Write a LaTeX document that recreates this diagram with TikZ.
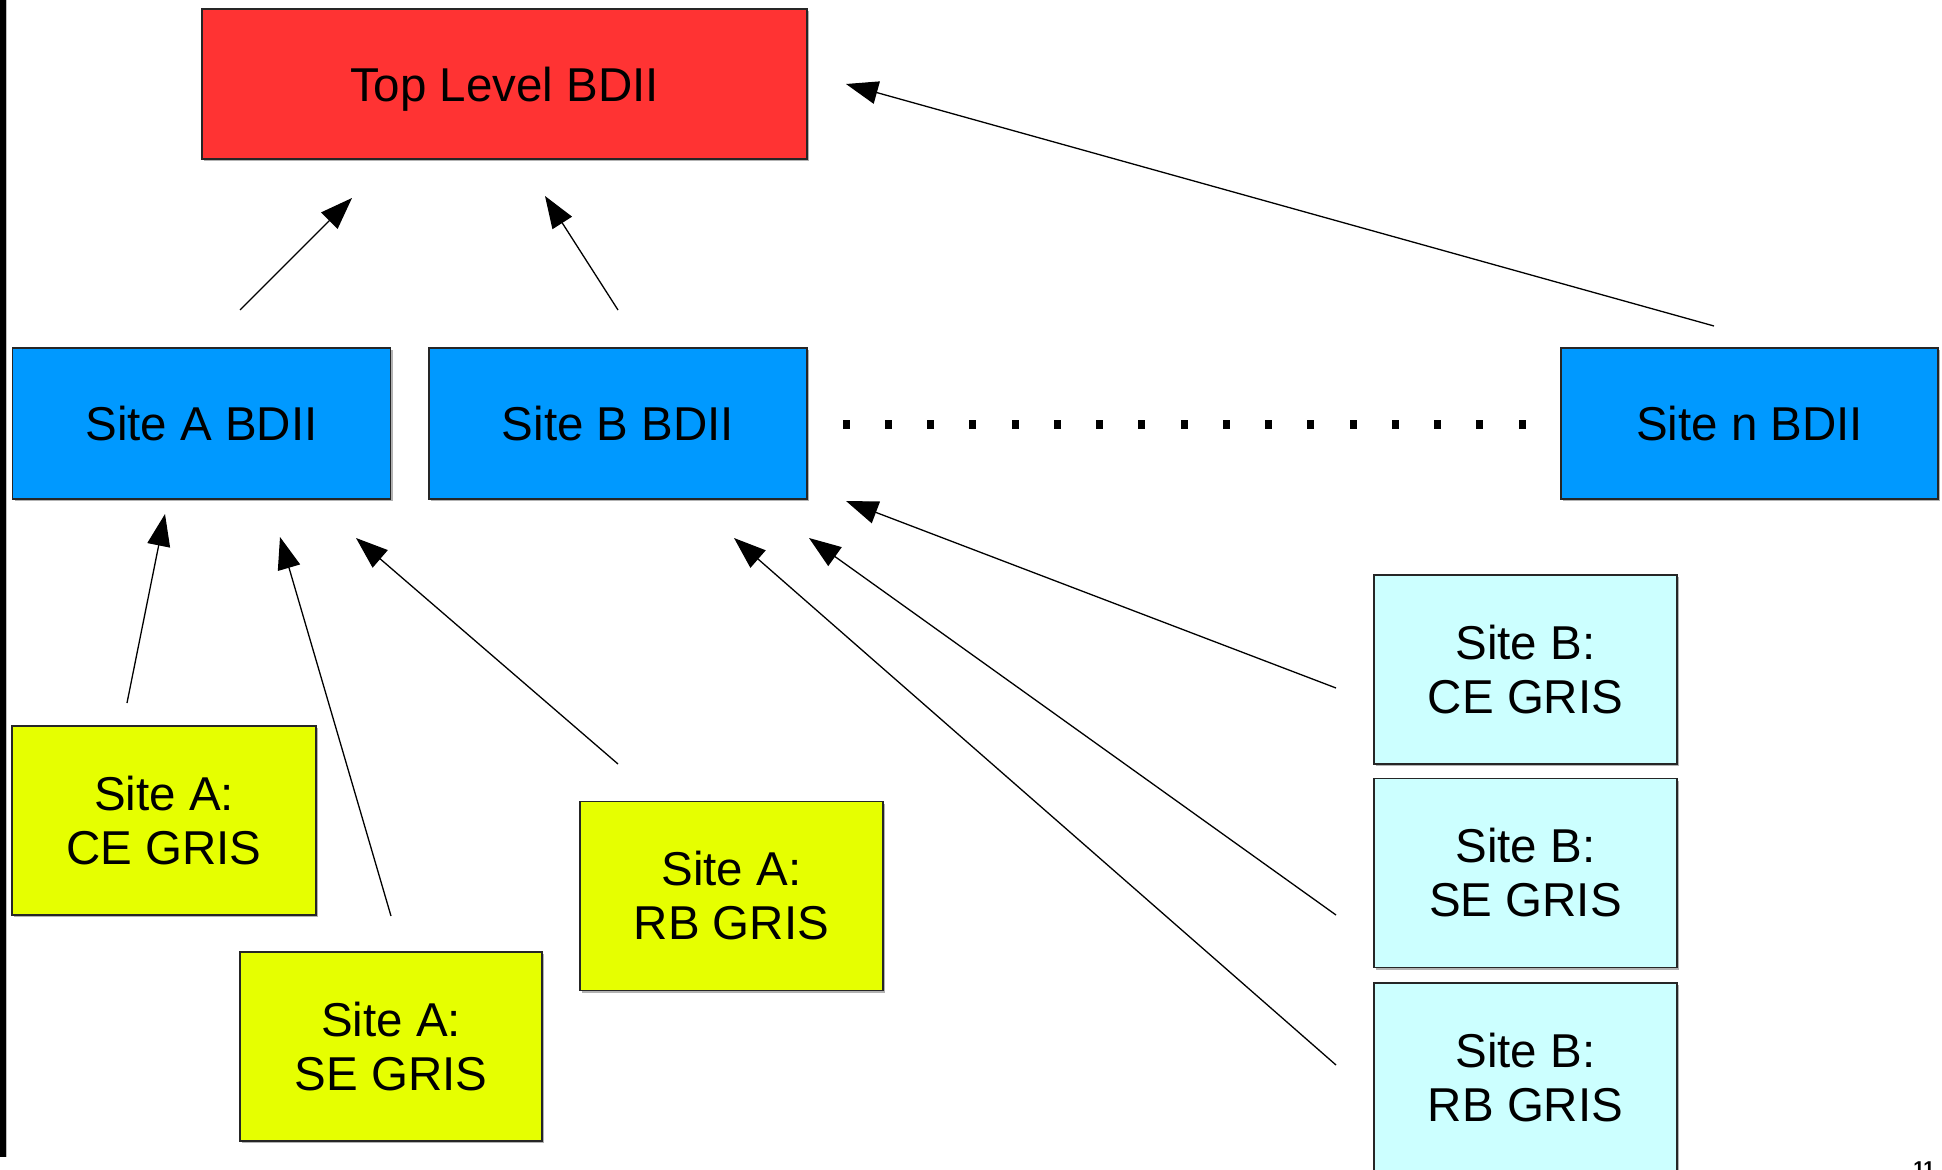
\documentclass[tikz,border=0pt]{standalone}
\usepackage{fontspec}
\setmainfont{Liberation Sans}
\usetikzlibrary{arrows.meta,shadows}
\definecolor{topred}{RGB}{255,51,51}
\definecolor{siteblue}{RGB}{0,153,255}
\definecolor{grislime}{RGB}{230,255,0}
\definecolor{griscyan}{RGB}{204,255,255}
\tikzset{
  box/.style={draw=black!85, line width=1.4pt, rectangle, inner sep=0pt,
    align=center, font=\fontsize{47.5}{54}\selectfont,
    drop shadow={shadow xshift=2pt, shadow yshift=-2pt, opacity=1, fill=black!30}},
  bdii/.style={box, fill=siteblue, minimum width=378pt, minimum height=151pt},
  gris/.style={box, minimum width=303pt, minimum height=189pt},
  feed/.style={line width=1.3pt, -{Triangle[length=32pt,width=23pt]}},
  dotsq/.style={fill=black, minimum width=7pt, minimum height=9pt, inner sep=0pt, rectangle}
}
\begin{document}
\begin{tikzpicture}[x=1pt,y=-1pt]
\useasboundingbox (0,0) rectangle (1942,1169);
\clip (0,0) rectangle (1942,1169);
\fill[white] (0,0) rectangle (1942,1169);

% slide edge
\fill[black] (0,0) rectangle (6,1157);
\fill[black!25] (6,0) rectangle (7,1157);

% information system hierarchy
\node[box, fill=topred, minimum width=605pt, minimum height=150pt, text depth=0pt] (top) at (504.5,84) {Top Level BDII};

\node[bdii] (siteA) at (201.5,423.5) {Site A BDII};
\node[bdii] (siteB) at (618,423.5) {Site B BDII};
\node[bdii, minimum width=377pt] (siteN) at (1749.5,423.5) {Site n BDII};

\node[gris, fill=grislime, minimum width=304pt] (aCE) at (164,820.5) {Site A:\\CE GRIS};
\node[gris, fill=grislime, minimum width=302pt] (aSE) at (391,1046.5) {Site A:\\SE GRIS};
\node[gris, fill=grislime] (aRB) at (731.5,896) {Site A:\\RB GRIS};

\node[gris, fill=griscyan] (bCE) at (1525.5,669.5) {Site B:\\CE GRIS};
\node[gris, fill=griscyan] (bSE) at (1525.5,873) {Site B:\\SE GRIS};
\node[gris, fill=griscyan] (bRB) at (1525.5,1077.5) {Site B:\\RB GRIS};

% ellipsis between site B and site n
\foreach \i in {0,...,16}
  \node[dotsq] (dot\i) at (846+42.25*\i,424) {};

% connector end points
\coordinate (aUp)    at (240,310);
\coordinate (aTop)   at (352,198);
\coordinate (bUp)    at (618,310);
\coordinate (bTop)   at (545,196);
\coordinate (nUp)    at (1714,326);
\coordinate (nTop)   at (846,84);
\coordinate (aCEout) at (127,703);
\coordinate (aCEin)  at (165,514);
\coordinate (aSEout) at (391,916);
\coordinate (aSEin)  at (280,537);
\coordinate (aRBout) at (618,764);
\coordinate (aRBin)  at (356,538);
\coordinate (bCEout) at (1336,688);
\coordinate (bCEin)  at (846,501);
\coordinate (bSEout) at (1336,915);
\coordinate (bSEin)  at (809,538);
\coordinate (bRBout) at (1336,1065);
\coordinate (bRBin)  at (734,538);

\draw[feed] (aUp) -- (aTop);
\draw[feed] (bUp) -- (bTop);
\draw[feed] (nUp) -- (nTop);
\draw[feed] (aCEout) -- (aCEin);
\draw[feed] (aSEout) -- (aSEin);
\draw[feed] (aRBout) -- (aRBin);
\draw[feed] (bCEout) -- (bCEin);
\draw[feed] (bSEout) -- (bSEin);
\draw[feed] (bRBout) -- (bRBin);

% page number
\node[anchor=base, inner sep=0pt, font=\fontsize{20}{24}\selectfont\bfseries] (pagenum) at (1924,1175) {11};
\end{tikzpicture}
\end{document}
